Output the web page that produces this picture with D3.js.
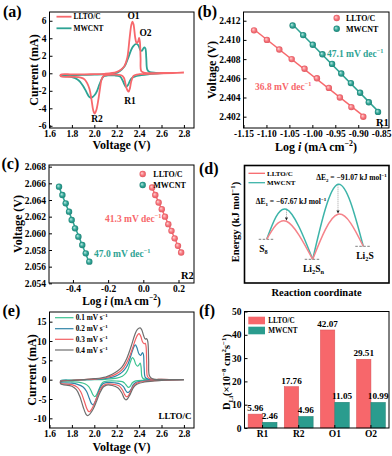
<!DOCTYPE html>
<html><head><meta charset="utf-8">
<script src="https://cdn.jsdelivr.net/npm/d3@7"></script>
<style>html,body{margin:0;padding:0;background:#fff;} svg{display:block;}</style>
</head><body>
<svg id="chart" width="392" height="456"></svg>
<script>
// ================= DATA =================
// (a) CV curves [voltage, current]
const cvVoltTicks = [1.6, 1.8, 2.0, 2.2, 2.4, 2.6, 2.8];
const aCurrentTicks = [-6, -4, -2, 0, 2, 4, 6];
const cvA_llto = [
 [2.80,0.08],[2.70,0.03],[2.60,-0.02],[2.50,-0.06],[2.42,-0.10],[2.38,-0.14],[2.35,-0.30],[2.33,-0.9],[2.318,-1.7],[2.307,-2.1],[2.296,-1.95],[2.285,-1.6],[2.275,-1.0],[2.264,-0.5],[2.24,-0.22],[2.18,-0.15],[2.10,-0.2],[2.078,-0.35],[2.063,-0.8],[2.05,-1.8],[2.035,-3.1],[2.018,-4.2],[2.003,-4.6],[1.99,-4.2],[1.975,-3.0],[1.957,-1.8],[1.935,-1.1],[1.913,-0.7],[1.88,-0.5],[1.80,-0.4],[1.70,-0.33],
 [1.70,-0.14],[1.80,-0.12],[1.91,-0.12],[2.00,-0.10],[2.09,-0.06],[2.196,0.13],[2.24,0.43],[2.27,0.85],[2.294,1.74],[2.315,4.0],[2.33,5.5],[2.34,5.9],[2.35,5.6],[2.366,4.0],[2.378,3.45],[2.39,3.6],[2.40,4.05],[2.407,3.6],[2.413,1.74],[2.42,0.24],[2.45,0.06],[2.60,0.03],[2.80,0.08]
];
const cvA_mwcnt = [
 [2.62,0.02],[2.55,-0.04],[2.48,-0.12],[2.42,-0.22],[2.36,-0.38],[2.33,-0.6],[2.315,-0.95],[2.30,-1.35],[2.283,-1.55],[2.268,-1.25],[2.252,-0.8],[2.23,-0.38],[2.18,-0.25],[2.12,-0.25],[2.085,-0.35],[2.065,-0.7],[2.045,-1.3],[2.025,-2.0],[2.005,-2.45],[1.985,-2.7],[1.968,-2.8],[1.955,-2.7],[1.94,-2.4],[1.92,-1.9],[1.90,-1.45],[1.875,-1.0],[1.85,-0.7],[1.80,-0.45],[1.75,-0.35],[1.70,-0.30],
 [1.70,-0.22],[1.80,-0.2],[1.90,-0.18],[2.00,-0.15],[2.08,-0.12],[2.18,-0.02],[2.226,0.24],[2.27,0.8],[2.30,1.67],[2.324,2.5],[2.345,3.05],[2.375,3.35],[2.395,3.16],[2.41,2.68],[2.425,2.57],[2.443,2.94],[2.455,2.87],[2.464,1.74],[2.473,0.43],[2.494,0.13],[2.55,0.05],[2.62,0.02]
];

// (b) Tafel R1
const bXTicks = [-1.15, -1.10, -1.05, -1.00, -0.95, -0.90, -0.85];
const bYTicks = [2.402, 2.404, 2.406, 2.408, 2.410, 2.412];
const b_llto_logi = [-1.127,-1.099,-1.072,-1.045,-1.017,-0.990,-0.964,-0.940,-0.915,-0.889];
const b_llto_v    = [2.411,2.410,2.409,2.408,2.407,2.406,2.405,2.404,2.403,2.402];
const b_mwcnt_logi = [-1.043,-1.020,-0.999,-0.978,-0.957,-0.937,-0.916,-0.896,-0.877,-0.857];
const b_mwcnt_v    = [2.4115,2.4105,2.4095,2.4085,2.4075,2.4065,2.4055,2.4045,2.4035,2.4025];

// (c) Tafel R2
const cXTicks = [-0.4, -0.2, 0.0, 0.2];
const cYTicks = [2.054, 2.056, 2.058, 2.060, 2.062, 2.064, 2.066, 2.068];
const c_mwcnt_logi = [-0.479,-0.460,-0.441,-0.422,-0.407,-0.388,-0.369,-0.347,-0.327,-0.307];
const c_mwcnt_v    = [2.0656,2.0646,2.0636,2.0626,2.0616,2.0606,2.0596,2.0586,2.0576,2.0566];
const c_llto_logi  = [0.050,0.068,0.087,0.105,0.123,0.142,0.160,0.178,0.197,0.215];
const c_llto_v     = [2.0655,2.0646,2.0637,2.0629,2.0620,2.0611,2.0603,2.0594,2.0585,2.0577];

// (d) energy profile: S8, TS1, Li2Sn, TS2, Li2S
const d_coord = [0, 0.43, 1, 1.55, 2.1];
const d_llto_energy  = [20, 38, 0, 45, 13];
const d_mwcnt_energy = [20, 50, 0, 75, 13];
const d_stateIdx = [0, 2, 4];
const d_stateLabels = ["S_{8}", "Li_{2}S_{n}", "Li_{2}S"];
const d_dE = ["ΔE_{1} = −67.67 kJ mol^{−1}", "ΔE_{2} = −91.07 kJ mol^{−1}"];

// (e) CV at different scan rates (LLTO/C)
const eRates = ["0.1", "0.2", "0.3", "0.4"];
const eYTicks = [-10, -5, 0, 5, 10, 15];
const cvE_01 = [
 [2.8,0],[2.6,-0.05],[2.45,-0.15],[2.37,-0.3],[2.34,-0.8],[2.32,-1.7],[2.305,-2.0],[2.29,-1.6],[2.27,-0.9],[2.25,-0.5],[2.2,-0.35],[2.12,-0.35],[2.08,-0.6],[2.06,-1.3],[2.04,-2.6],[2.02,-3.9],[2.005,-4.4],[1.99,-4.0],[1.97,-2.8],[1.95,-1.8],[1.92,-1.1],[1.88,-0.75],[1.8,-0.55],[1.7,-0.45],
 [1.7,-0.2],[1.8,-0.1],[1.9,-0.05],[2.0,0],[2.1,0.1],[2.2,0.4],[2.25,0.9],[2.28,1.6],[2.3,2.6],[2.32,4.4],[2.34,5.7],[2.355,5.2],[2.37,4.0],[2.385,3.5],[2.4,3.9],[2.41,4.3],[2.418,3.2],[2.425,0.8],[2.44,0.2],[2.5,0.05],[2.6,0],[2.8,0]
];
const cvE_02 = [
 [2.8,0],[2.6,-0.1],[2.45,-0.3],[2.38,-0.6],[2.35,-1.2],[2.33,-2.4],[2.31,-3.2],[2.295,-3.3],[2.28,-2.8],[2.26,-1.8],[2.23,-1.1],[2.18,-0.8],[2.12,-0.7],[2.08,-1.0],[2.05,-2.2],[2.03,-3.8],[2.01,-5.5],[1.99,-6.5],[1.975,-6.2],[1.955,-4.8],[1.93,-3.0],[1.9,-1.9],[1.85,-1.2],[1.8,-0.9],[1.7,-0.7],
 [1.7,-0.3],[1.8,-0.15],[1.9,-0.05],[2.0,0.05],[2.1,0.3],[2.18,0.8],[2.23,1.5],[2.27,2.6],[2.3,4.0],[2.33,6.5],[2.355,8.6],[2.367,9.0],[2.38,8.3],[2.4,6.6],[2.415,6.3],[2.43,7.0],[2.438,6.6],[2.445,3.0],[2.455,0.6],[2.48,0.15],[2.6,0.02],[2.8,0]
];
const cvE_03 = [
 [2.8,0],[2.6,-0.15],[2.45,-0.45],[2.38,-0.9],[2.35,-1.6],[2.32,-3.3],[2.3,-4.3],[2.285,-4.4],[2.27,-3.8],[2.25,-2.6],[2.22,-1.6],[2.17,-1.2],[2.12,-1.1],[2.08,-1.5],[2.05,-2.8],[2.02,-4.8],[1.99,-6.9],[1.965,-8.1],[1.952,-8.3],[1.935,-7.6],[1.91,-5.5],[1.88,-3.2],[1.85,-2.0],[1.8,-1.3],[1.7,-0.9],
 [1.7,-0.4],[1.8,-0.2],[1.9,0],[2.0,0.15],[2.1,0.5],[2.17,1.1],[2.22,1.9],[2.26,3.0],[2.3,5.0],[2.34,8.0],[2.37,10.6],[2.39,11.7],[2.4,11.9],[2.415,11.2],[2.43,9.8],[2.445,9.3],[2.455,9.4],[2.462,8.6],[2.468,4.0],[2.475,0.8],[2.5,0.2],[2.6,0.05],[2.8,0]
];
const cvE_04 = [
 [2.8,0],[2.6,-0.2],[2.45,-0.6],[2.38,-1.2],[2.35,-2.0],[2.32,-3.8],[2.295,-5.0],[2.28,-5.2],[2.265,-4.7],[2.245,-3.4],[2.21,-2.1],[2.16,-1.5],[2.11,-1.4],[2.08,-1.9],[2.05,-3.4],[2.02,-5.6],[1.99,-7.6],[1.96,-8.9],[1.94,-9.3],[1.925,-8.9],[1.9,-7.0],[1.87,-4.3],[1.84,-2.6],[1.8,-1.7],[1.7,-1.1],
 [1.7,-0.5],[1.8,-0.25],[1.9,0],[2.0,0.25],[2.1,0.7],[2.16,1.4],[2.21,2.3],[2.25,3.4],[2.29,5.5],[2.33,8.7],[2.36,11.5],[2.385,13.0],[2.41,13.4],[2.425,12.8],[2.44,11.4],[2.455,10.5],[2.468,10.6],[2.478,9.8],[2.485,5.0],[2.492,1.0],[2.52,0.2],[2.6,0.05],[2.8,0]
];
const cvE = [cvE_01, cvE_02, cvE_03, cvE_04];

// (f) diffusion coefficients
const fPeaks = ["R1", "R2", "O1", "O2"];
const fSeries = ["LLTO/C", "MWCNT"];
const f_llto  = [5.96, 17.76, 42.07, 29.51];
const f_mwcnt = [2.46, 4.96, 11.05, 10.99];
const fYTicks = [0, 10, 20, 30, 40, 50];

// ================= STYLE =================
const FONT = "'Liberation Serif','Times New Roman',serif";
const RED = "#f7686c", TEAL = "#2ea394";
const E_COLORS = ["#3cc391", "#2f84a8", "#f25f62", "#6e6e6e"];
const svg = d3.select('#chart').attr('font-family', FONT).attr('font-weight', 'bold');

function rich(sel, str, fs) {
  const parts = str.split(/(\^\{[^}]*\}|_\{[^}]*\}|~\{[^}]*\})/).filter(p => p !== '');
  let cur = 0;
  for (const p of parts) {
    let t = p, off = 0, size = fs, ital = false;
    if (p.startsWith('^{')) { t = p.slice(2, -1); off = -0.38 * fs; size = 0.66 * fs; }
    else if (p.startsWith('_{')) { t = p.slice(2, -1); off = 0.24 * fs; size = 0.66 * fs; }
    else if (p.startsWith('~{')) { t = p.slice(2, -1); ital = true; }
    const ts = sel.append('tspan').text(t).attr('font-size', size);
    if (off - cur !== 0) ts.attr('dy', off - cur);
    if (ital) ts.attr('font-style', 'italic');
    cur = off;
  }
}
function text(x, y, str, fs, opt = {}) {
  const t = svg.append('text').attr('x', x).attr('y', y).attr('font-size', fs)
    .attr('fill', opt.fill || '#000').attr('text-anchor', opt.anchor || 'start');
  if (opt.rot) t.attr('transform', `rotate(${opt.rot},${x},${y})`);
  rich(t, str, fs);
  return t;
}
function frame(B, sw = 1) {
  svg.append('rect').attr('x', B.x0).attr('y', B.y0).attr('width', B.x1 - B.x0).attr('height', B.y1 - B.y0)
    .attr('fill', 'none').attr('stroke', '#000').attr('stroke-width', sw);
}
const hy = s => s.replace('\u2212', '-');
function axes(B, x, y, xt, xf, yt, yf, fs = 9.5) {
  if (xt) {
    const g = svg.append('g').attr('transform', `translate(0,${B.y1})`)
      .call(d3.axisBottom(x).tickValues(xt).tickFormat(xf).tickSizeInner(-3).tickSizeOuter(0).tickPadding(2));
    g.select('.domain').remove();
    g.attr('font-family', FONT).attr('font-size', fs).attr('font-weight', 'bold');
  }
  if (yt) {
    const g = svg.append('g').attr('transform', `translate(${B.x0},0)`)
      .call(d3.axisLeft(y).tickValues(yt).tickFormat(yf).tickSizeInner(-3).tickSizeOuter(0).tickPadding(3));
    g.select('.domain').remove();
    g.attr('font-family', FONT).attr('font-size', fs).attr('font-weight', 'bold');
  }
}
// sphere gradients
const defs = svg.append('defs');
function grad(id, c0, c1, c2) {
  const g = defs.append('radialGradient').attr('id', id).attr('cx', '50%').attr('cy', '50%').attr('r', '50%').attr('fx', '35%').attr('fy', '35%');
  g.append('stop').attr('offset', '0%').attr('stop-color', c0);
  g.append('stop').attr('offset', '60%').attr('stop-color', c1);
  g.append('stop').attr('offset', '100%').attr('stop-color', c2);
}
grad('gR', '#ffd6d6', '#f6737a', '#e05a62');
grad('gT', '#bdebe4', '#2ea394', '#1f8276');
defs.append('marker').attr('id', 'arr').attr('viewBox', '0 0 10 10').attr('refX', 9).attr('refY', 5)
  .attr('markerWidth', 4).attr('markerHeight', 4).attr('orient', 'auto')
  .append('path').attr('d', 'M0,0L10,5L0,10z').attr('fill', '#222');

function fit(xs, ys) {
  const mx = d3.mean(xs), my = d3.mean(ys);
  let sxy = 0, sxx = 0;
  xs.forEach((v, i) => { sxy += (v - mx) * (ys[i] - my); sxx += (v - mx) * (v - mx); });
  const b = sxy / sxx, a = my - b * mx;
  const [e0, e1] = d3.extent(xs);
  return [[e0, a + b * e0], [e1, a + b * e1]];
}

// ================= PANEL A =================
{
  const B = {x0: 49.5, x1: 194, y0: 12, y1: 128};
  const x = d3.scaleLinear().domain([1.6, 2.89]).range([B.x0, B.x1]);
  const y = d3.scaleLinear().domain([-6.25, 7]).range([B.y1, B.y0]);
  const line = d3.line().x(d => x(d[0])).y(d => y(d[1])).curve(d3.curveCatmullRom.alpha(0.5));
  svg.append('path').attr('d', line(cvA_mwcnt)).attr('fill', 'none').attr('stroke', TEAL).attr('stroke-width', 1.8);
  svg.append('path').attr('d', line(cvA_llto)).attr('fill', 'none').attr('stroke', RED).attr('stroke-width', 1.8);
  frame(B);
  axes(B, x, y, cvVoltTicks, d3.format('.1f'), aCurrentTicks, d => hy(d3.format('d')(d)));
  [[RED, 'LLTO/C', 16.7], [TEAL, 'MWCNT', 28.3]].forEach(([c, l, yy]) => {
    svg.append('line').attr('x1', 56.5).attr('x2', 71.5).attr('y1', yy).attr('y2', yy).attr('stroke', c).attr('stroke-width', 1.8);
    text(73.5, yy + 2.6, l, 7.4);
  });
  text(133.5, 18.5, 'O1', 9.5, {anchor: 'middle'});
  text(145.5, 36, 'O2', 9.5, {anchor: 'middle'});
  text(130, 103.5, 'R1', 9.5, {anchor: 'middle'});
  text(97, 122, 'R2', 9.5, {anchor: 'middle'});
  text(37.5, 70, 'Current (mA)', 12, {anchor: 'middle', rot: -90});
  text(121.5, 149.3, 'Voltage (V)', 12, {anchor: 'middle'});
  text(3, 17, '(a)', 16);
}

// ================= PANEL B =================
{
  const B = {x0: 243.5, x1: 389, y0: 12, y1: 128};
  const x = d3.scaleLinear().domain([-1.15, -0.833]).range([B.x0, B.x1]);
  const y = d3.scaleLinear().domain([2.40082, 2.41291]).range([B.y1, B.y0]);
  const ln = d3.line().x(d => x(d[0])).y(d => y(d[1]));
  const sets = [[b_llto_logi, b_llto_v, RED, 'gR'], [b_mwcnt_logi, b_mwcnt_v, TEAL, 'gT']];
  sets.forEach(([xs, ys, c, g]) => {
    svg.append('path').attr('d', ln(fit(xs, ys))).attr('stroke', c).attr('stroke-width', 1.5).attr('fill', 'none');
    svg.append('g').selectAll('circle').data(xs.map((v, i) => [v, ys[i]])).join('circle')
      .attr('cx', d => x(d[0])).attr('cy', d => y(d[1])).attr('r', 3.2).attr('fill', `url(#${g})`);
  });
  frame(B);
  axes(B, x, y, bXTicks, d => hy(d3.format('.2f')(d)), bYTicks, d3.format('.3f'));
  [['gR', 'LLTO/C', 18], ['gT', 'MWCNT', 28.7]].forEach(([g, l, yy]) => {
    svg.append('circle').attr('cx', 336.7).attr('cy', yy).attr('r', 3.2).attr('fill', `url(#${g})`);
    text(346, yy + 3, l, 8);
  });
  text(327, 57, '47.1 mV dec^{−1}', 9.5, {fill: TEAL});
  text(255, 89.5, '36.8 mV dec^{−1}', 9.5, {fill: RED});
  text(376, 125.5, 'R1', 10.5);
  text(216, 70, 'Voltage (V)', 12, {anchor: 'middle', rot: -90});
  text(316, 150.5, 'Log ~{i} (mA cm^{−2})', 12, {anchor: 'middle'});
  text(197.5, 17, '(b)', 16);
}

// ================= PANEL C =================
{
  const B = {x0: 49, x1: 194, y0: 165, y1: 283};
  const x = d3.scaleLinear().domain([-0.536, 0.288]).range([B.x0, B.x1]);
  const y = d3.scaleLinear().domain([2.05404, 2.0682]).range([B.y1, B.y0]);
  const ln = d3.line().x(d => x(d[0])).y(d => y(d[1]));
  const sets = [[c_llto_logi, c_llto_v, RED, 'gR'], [c_mwcnt_logi, c_mwcnt_v, TEAL, 'gT']];
  sets.forEach(([xs, ys, c, g]) => {
    svg.append('path').attr('d', ln(fit(xs, ys))).attr('stroke', c).attr('stroke-width', 1.5).attr('fill', 'none');
    svg.append('g').selectAll('circle').data(xs.map((v, i) => [v, ys[i]])).join('circle')
      .attr('cx', d => x(d[0])).attr('cy', d => y(d[1])).attr('r', 3.2).attr('fill', `url(#${g})`);
  });
  frame(B);
  axes(B, x, y, cXTicks, d => hy(d3.format('.1f')(d)), cYTicks, d3.format('.3f'));
  [['gR', 'LLTO/C', 174], ['gT', 'MWCNT', 185]].forEach(([g, l, yy]) => {
    svg.append('circle').attr('cx', 142.7).attr('cy', yy).attr('r', 3.2).attr('fill', `url(#${g})`);
    text(153.3, yy + 3, l, 8);
  });
  text(105, 221.5, '41.3 mV dec^{−1}', 9.5, {fill: RED});
  text(94, 257, '47.0 mV dec^{−1}', 9.5, {fill: TEAL});
  text(181, 279, 'R2', 10.5);
  text(21.5, 224, 'Voltage (V)', 12, {anchor: 'middle', rot: -90});
  text(121.5, 304.5, 'Log ~{i} (mA cm^{−2})', 11.5, {anchor: 'middle'});
  text(1.5, 168.5, '(c)', 16);
}

// ================= PANEL D =================
{
  const B = {x0: 244.5, x1: 389, y0: 165.5, y1: 283};
  const x = d3.scaleLinear().domain([-0.483, 2.659]).range([B.x0, B.x1]);
  const y = d3.scaleLinear().domain([-23.7, 93.8]).range([B.y1, B.y0]);
  const ln = d3.line().x(d => x(d[0])).y(d => y(d[1])).curve(d3.curveNatural);
  const seg = (en) => [[0, 1, 2], [2, 3, 4]].map(ix => ix.map(i => [d_coord[i], en[i]]));
  d_stateIdx.forEach(i => {
    svg.append('line').attr('x1', x(d_coord[i]) - 8).attr('x2', x(d_coord[i]) + 8)
      .attr('y1', y(d_llto_energy[i])).attr('y2', y(d_llto_energy[i]))
      .attr('stroke', '#999').attr('stroke-width', 1.2).attr('stroke-dasharray', '2.5,1.5');
  });
  seg(d_mwcnt_energy).forEach(s => svg.append('path').attr('d', ln(s)).attr('fill', 'none').attr('stroke', '#3db4a9').attr('stroke-width', 1.5));
  seg(d_llto_energy).forEach(s => svg.append('path').attr('d', ln(s)).attr('fill', 'none').attr('stroke', '#f5838a').attr('stroke-width', 1.5));
  [1, 3].forEach(i => {
    svg.append('line').attr('x1', x(d_coord[i])).attr('x2', x(d_coord[i]))
      .attr('y1', y(d_mwcnt_energy[i]) + 1).attr('y2', y(d_llto_energy[i]) - 1)
      .attr('stroke', '#888').attr('stroke-width', 0.8).attr('stroke-dasharray', '1,1').attr('marker-end', 'url(#arr)');
  });
  frame(B, 1.6);
  [[RED, 'LLTO/C', 173.3], ['#3db4a9', 'MWCNT', 182.7]].forEach(([c, l, yy]) => {
    svg.append('line').attr('x1', 248.5).attr('x2', 265).attr('y1', yy).attr('y2', yy).attr('stroke', c).attr('stroke-width', 1.3);
    text(267, yy + 2.5, l, 7);
  });
  text(291, 204, d_dE[0], 7.5, {anchor: 'middle'});
  text(351.5, 180, d_dE[1], 7.5, {anchor: 'middle'});
  text(263.5, 251.5, d_stateLabels[0], 9.5, {anchor: 'middle'});
  text(313.5, 271.5, d_stateLabels[1], 9.5, {anchor: 'middle'});
  text(365, 258.5, d_stateLabels[2], 9.5, {anchor: 'middle'});
  text(238.5, 222, 'Energy (kJ mol^{−1})', 10.5, {anchor: 'middle', rot: -90});
  text(316.5, 295.5, 'Reaction coordinate', 10.5, {anchor: 'middle'});
  text(199, 174, '(d)', 16);
}

// ================= PANEL E =================
{
  const B = {x0: 49.5, x1: 194, y0: 312, y1: 428};
  const x = d3.scaleLinear().domain([1.6, 2.89]).range([B.x0, B.x1]);
  const y = d3.scaleLinear().domain([-12.5, 17.5]).range([B.y1, B.y0]);
  const line = d3.line().x(d => x(d[0])).y(d => y(d[1])).curve(d3.curveCatmullRom.alpha(0.5));
  cvE.forEach((c, i) => svg.append('path').attr('d', line(c)).attr('fill', 'none').attr('stroke', E_COLORS[i]).attr('stroke-width', 1.2));
  frame(B);
  axes(B, x, y, cvVoltTicks, d3.format('.1f'), eYTicks, d => hy(d3.format('d')(d)));
  const ly = [317.7, 328.7, 339.3, 350];
  eRates.forEach((r, i) => {
    svg.append('line').attr('x1', 55).attr('x2', 73.5).attr('y1', ly[i]).attr('y2', ly[i]).attr('stroke', E_COLORS[i]).attr('stroke-width', 1.2);
    text(75.7, ly[i] + 2.5, `${r} mV s^{−1}`, 7.3);
  });
  text(158.5, 418.5, 'LLTO/C', 9);
  text(35.5, 370, 'Current (mA)', 12, {anchor: 'middle', rot: -90});
  text(121.5, 450.5, 'Voltage (V)', 12, {anchor: 'middle'});
  text(2.5, 315.5, '(e)', 16);
}

// ================= PANEL F =================
{
  const B = {x0: 244.5, x1: 389, y0: 311.5, y1: 428};
  const x = d3.scaleBand().domain(fPeaks).range([B.x0, B.x1]).paddingInner(0).paddingOuter(0);
  const xs = d3.scaleBand().domain(fSeries).range([0, x.bandwidth()]).paddingInner(0).paddingOuter(0.25);
  const y = d3.scaleLinear().domain([0, 50]).range([B.y1, B.y0]);
  const series = [[f_llto, '#f7676b', '#d85357', 'LLTO/C'], [f_mwcnt, '#2a9c8e', '#1f7f73', 'MWCNT']];
  series.forEach(([vals, c, sc, s]) => {
    const g = svg.append('g');
    g.selectAll('rect').data(vals.map((v, i) => [fPeaks[i], v])).join('rect')
      .attr('x', d => x(d[0]) + xs(s)).attr('width', xs.bandwidth())
      .attr('y', d => y(d[1])).attr('height', d => y(0) - y(d[1]))
      .attr('fill', c).attr('stroke', sc).attr('stroke-width', 0.5);
    vals.forEach((v, i) => text(x(fPeaks[i]) + xs(s) + xs.bandwidth() / 2, y(v) - 3, d3.format('.2f')(v), 9.2, {anchor: 'middle'}));
  });
  frame(B);
  axes(B, x, y, fPeaks, d => d, fYTicks, d3.format('d'));
  [['#f7676b', 'LLTO/C', 316.7], ['#2a9c8e', 'MWCNT', 326.7]].forEach(([c, l, yy]) => {
    svg.append('rect').attr('x', 248.3).attr('y', yy).attr('width', 16.7).attr('height', 7.6).attr('fill', c);
    text(268.3, yy + 6.5, l, 7.2);
  });
  text(230, 372, 'D_{Li}(×10^{−8} cm^{2}s^{−1})', 10.5, {anchor: 'middle', rot: -90});
  text(199, 316, '(f)', 16);
}
</script>
</body></html>
